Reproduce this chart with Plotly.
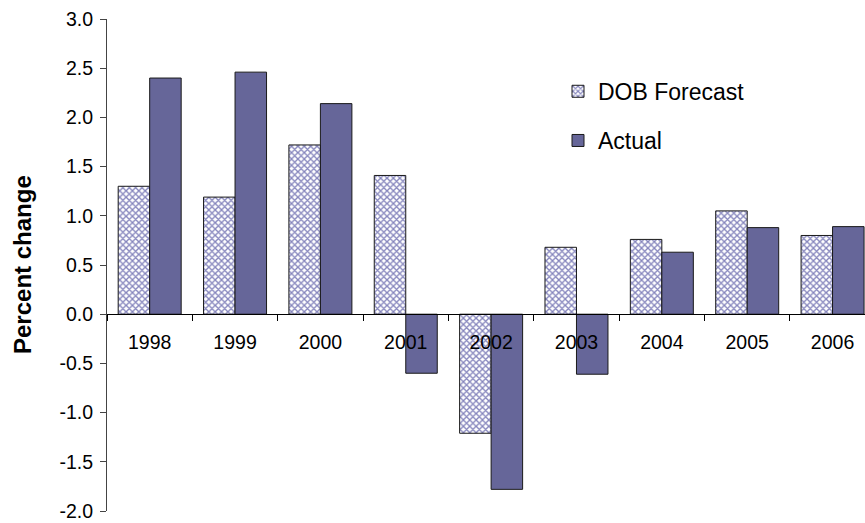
import plotly.graph_objects as go

years = ["1998", "1999", "2000", "2001", "2002", "2003", "2004", "2005", "2006"]
dob_forecast = [1.30, 1.19, 1.72, 1.41, -1.21, 0.68, 0.76, 1.05, 0.80]
actual = [2.40, 2.46, 2.14, -0.60, -1.78, -0.61, 0.63, 0.88, 0.89]
y_ticks = [-2.0, -1.5, -1.0, -0.5, 0.0, 0.5, 1.0, 1.5, 2.0, 2.5, 3.0]

FONT = "Liberation Sans, Arial, sans-serif"
W, H = 865, 523
M_L, M_R, M_T, M_B = 107, 0, 19, 12
Y_MIN, Y_MAX = -2.0, 3.0

fig = go.Figure()
fig.add_trace(go.Bar(
    x=years, y=dob_forecast, name="DOB Forecast", legend="legend",
    marker=dict(
        color="white",
        line=dict(color="#1a1a1a", width=1),
        pattern=dict(shape="x", fgcolor="#8484bc", bgcolor="white",
                     size=4.5, solidity=0.5, fillmode="replace"),
    ),
))
fig.add_trace(go.Bar(
    x=years, y=actual, name="Actual", legend="legend2",
    marker=dict(color="#666699", line=dict(color="#1a1a1a", width=1)),
))

# x axis sits on the zero line (fraction of the y range)
zero_pos = (0 - Y_MIN) / (Y_MAX - Y_MIN)

legend_common = dict(
    font=dict(family=FONT, size=23, color="black"),
    bgcolor="rgba(0,0,0,0)", xanchor="left", yanchor="middle",
    itemclick=False, itemdoubleclick=False,
)

fig.update_layout(
    width=W, height=H,
    margin=dict(l=M_L, r=M_R, t=M_T, b=M_B, pad=0),
    paper_bgcolor="white", plot_bgcolor="white",
    font=dict(family=FONT, color="black"),
    barmode="group", bargap=0.262, bargroupgap=0,
    showlegend=True,
    legend=dict(x=0.595, y=0.853, **legend_common),
    legend2=dict(x=0.595, y=0.753, **legend_common),
    xaxis=dict(
        type="category", range=[-0.5, 8.38],
        anchor="free", position=zero_pos,
        showline=True, linecolor="black", linewidth=1,
        ticks="outside", tickson="boundaries", ticklen=6,
        tickcolor="black", tickwidth=1,
        tickfont=dict(family=FONT, size=19.5, color="black"),
        ticklabelstandoff=10,
        showgrid=False, zeroline=False, fixedrange=True,
    ),
    yaxis=dict(
        range=[Y_MIN, Y_MAX],
        tickvals=y_ticks, ticktext=[f"{v:.1f}" for v in y_ticks],
        showline=True, linecolor="#444444", linewidth=1,
        ticks="outside", ticklen=6, tickcolor="#444444",
        tickfont=dict(family=FONT, size=19.5, color="black"),
        ticklabelstandoff=3,
        showgrid=False, zeroline=False, fixedrange=True,
    ),
    annotations=[dict(
        text="<b>Percent change</b>", textangle=-90,
        xref="paper", yref="paper",
        x=(22 - M_L) / (W - M_L - M_R), y=0.5,
        xanchor="center", yanchor="middle", showarrow=False,
        font=dict(family=FONT, size=24, color="black"),
    )],
)

fig.write_html("out.html")
